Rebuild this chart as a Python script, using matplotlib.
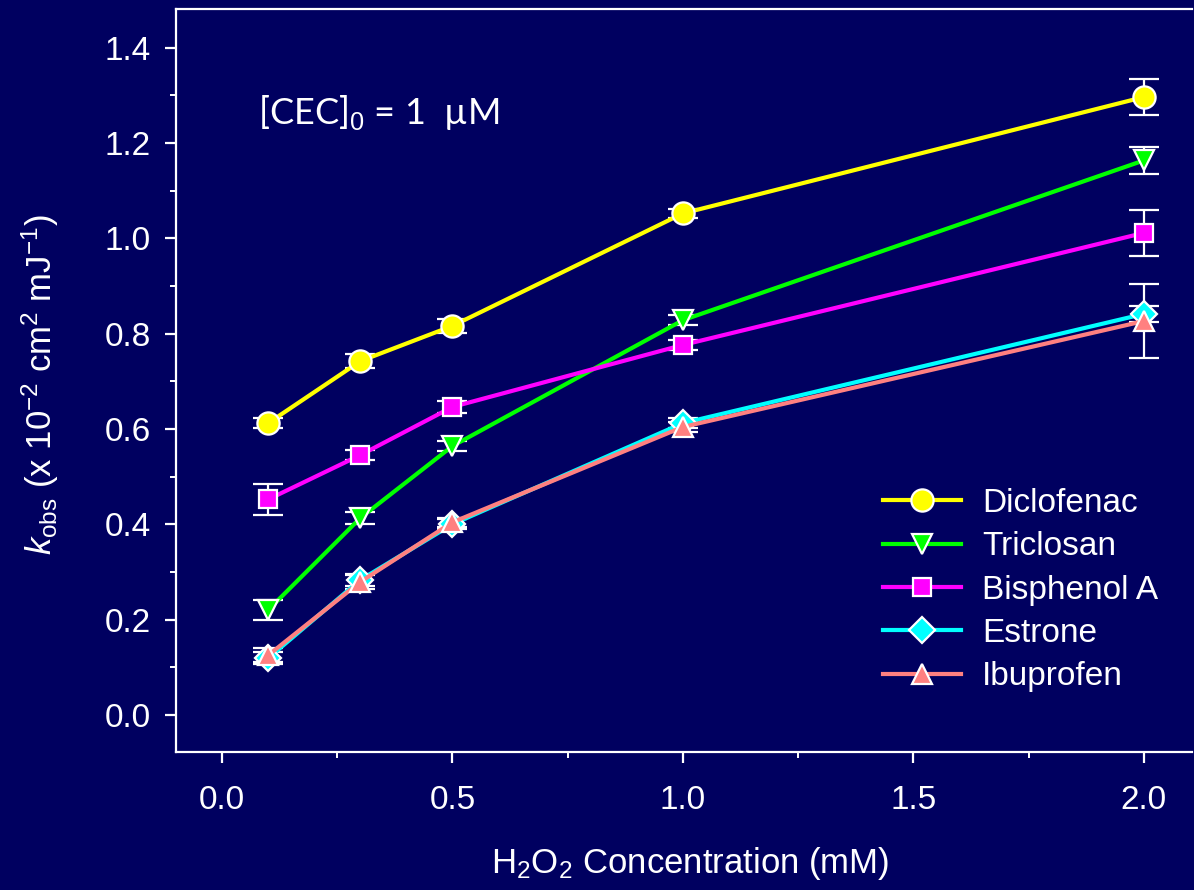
import numpy as np
import matplotlib
matplotlib.use("Agg")
import matplotlib.pyplot as plt

plt.rcParams["font.family"] = ["Liberation Sans", "DejaVu Sans"]
plt.rcParams["mathtext.fontset"] = "custom"
plt.rcParams["mathtext.rm"] = "Liberation Sans"
plt.rcParams["mathtext.it"] = "Liberation Sans:italic"

BG = "#000060"
FG = "white"

# H2O2 concentration (mM)
h2o2 = [0.1, 0.3, 0.5, 1.0, 2.0]

names = ["Diclofenac", "Triclosan", "Bisphenol A", "Estrone", "Ibuprofen"]
diclofenac = [0.612, 0.742, 0.816, 1.052, 1.296]
diclofenac_err = [0.010, 0.015, 0.014, 0.010, 0.037]
triclosan = [0.220, 0.413, 0.564, 0.828, 1.163]
triclosan_err = [0.020, 0.013, 0.010, 0.010, 0.028]
bisphenol = [0.452, 0.545, 0.646, 0.776, 1.011]
bisphenol_err = [0.033, 0.010, 0.012, 0.010, 0.049]
estrone = [0.119, 0.283, 0.400, 0.612, 0.841]
estrone_err = [0.012, 0.012, 0.010, 0.010, 0.016]
ibuprofen = [0.125, 0.279, 0.404, 0.604, 0.826]
ibuprofen_err = [0.015, 0.015, 0.010, 0.010, 0.077]

series = [
    (diclofenac, diclofenac_err, "#FFFF00", "o", 16),
    (triclosan, triclosan_err, "#00FF00", "v", 15),
    (bisphenol, bisphenol_err, "#FF00FF", "s", 13.5),
    (estrone, estrone_err, "#00FFFF", "D", 13),
    (ibuprofen, ibuprofen_err, "#FF8080", "^", 15),
]

fig = plt.figure(figsize=(11.94, 8.90), dpi=100, facecolor=BG)
ax = fig.add_axes([0.1474, 0.155, 0.851, 0.835], facecolor=BG)

for name, (y, err, color, marker, ms) in zip(names, series):
    ax.errorbar(h2o2, y, yerr=err, fmt="none", ecolor=FG, elinewidth=1.6,
                capsize=10.5, capthick=1.6, zorder=2)
    ax.plot(h2o2, y, color=color, lw=3, marker=marker, ms=ms,
            mfc=color, mec=FG, mew=1.6, label=name, zorder=3)

ax.set_xlim(-0.1, 2.105)
ax.set_ylim(-0.078, 1.481)
ax.set_xticks([0.0, 0.5, 1.0, 1.5, 2.0])
ax.set_xticks([0.25, 0.75, 1.25, 1.75], minor=True)
ax.set_yticks(np.arange(0, 1.41, 0.2))
ax.set_yticks(np.arange(0.1, 1.41, 0.2), minor=True)
ax.xaxis.set_major_formatter(matplotlib.ticker.FormatStrFormatter("%.1f"))
ax.yaxis.set_major_formatter(matplotlib.ticker.FormatStrFormatter("%.1f"))

for s in ["left", "bottom", "top"]:
    ax.spines[s].set_color(FG)
    ax.spines[s].set_linewidth(1.6)
ax.spines["right"].set_visible(False)

ax.tick_params(which="major", direction="out", length=8, width=1.6, colors=FG,
               labelsize=24)
ax.tick_params(which="minor", direction="out", length=4.5, width=1.4, colors=FG)
ax.tick_params(axis="x", which="major", pad=16)
ax.tick_params(axis="y", which="major", pad=10)

ax.set_xlabel(r"H$_2$O$_2$ Concentration (mM)", color=FG, fontsize=25)
ax.xaxis.set_label_coords(0.506, -0.125)
ax.set_ylabel(r"$k_{\mathrm{obs}}$ (x 10$^{-2}$ cm$^{2}$ mJ$^{-1}$)", color=FG,
              fontsize=25, va="center")
ax.yaxis.set_label_coords(-0.134, 0.495)

ax.text(0.081, 0.861, r"[CEC]$_0$ = 1  µM", transform=ax.transAxes, color=FG,
        fontsize=26, family=["Lato", "DejaVu Sans"], va="center")

leg = ax.legend(loc="upper left", bbox_to_anchor=(883 / 1194, 1 - 488 / 890),
                bbox_transform=fig.transFigure, frameon=False, borderpad=0,
                borderaxespad=0, fontsize=24, handlelength=2.34,
                handletextpad=0.63, labelspacing=0.37)
for t in leg.get_texts():
    t.set_color(FG)

fig.savefig("out.png", dpi=100, facecolor=BG)
